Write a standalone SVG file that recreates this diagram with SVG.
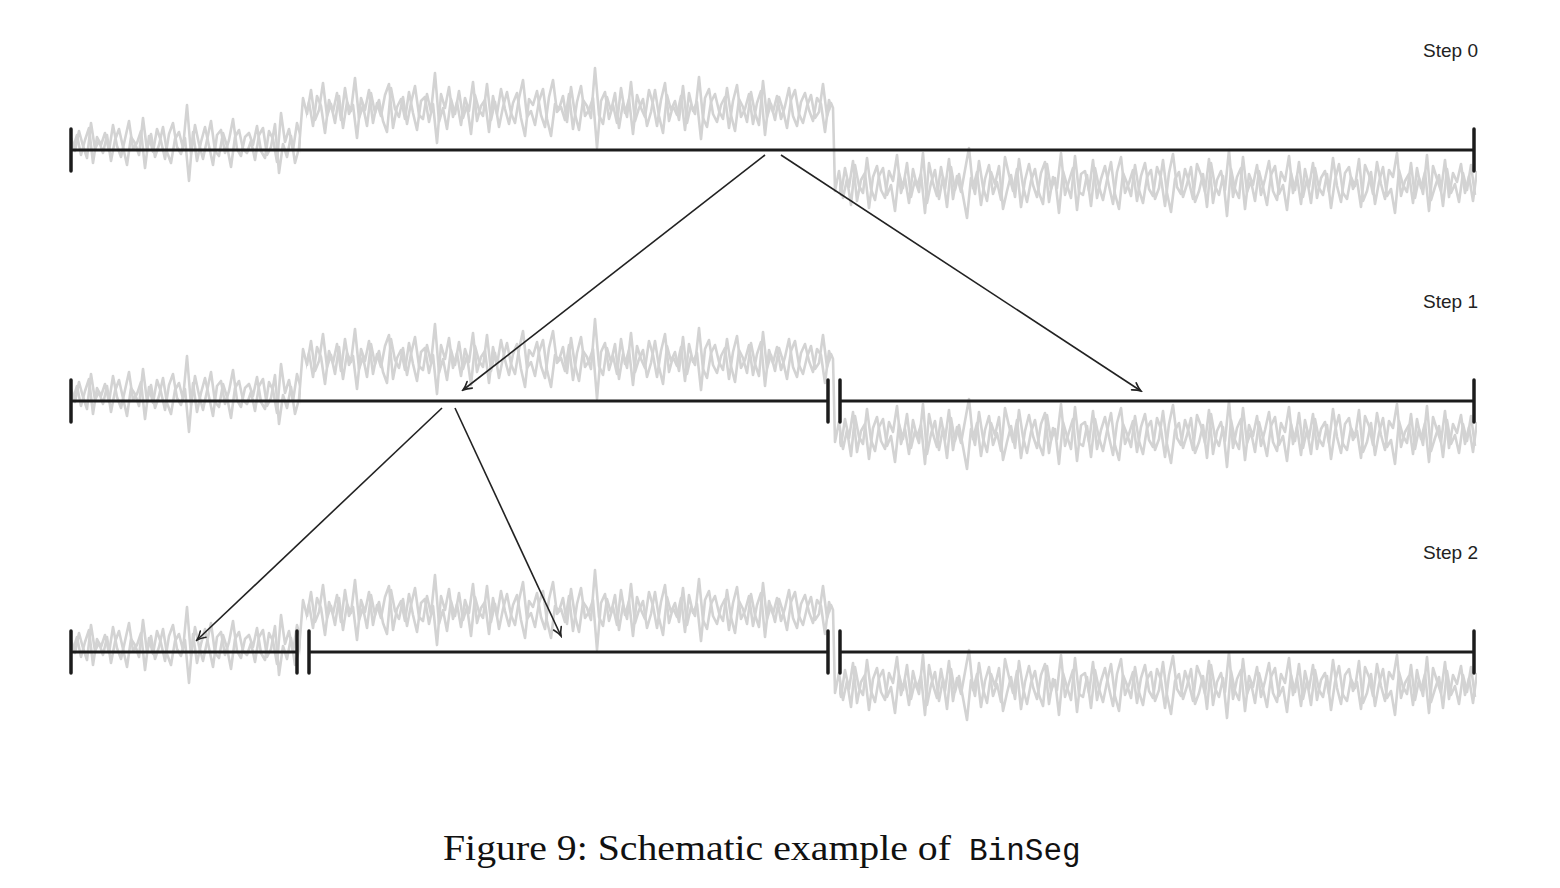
<svg xmlns="http://www.w3.org/2000/svg" xmlns:xlink="http://www.w3.org/1999/xlink" width="1560" height="888" viewBox="0 0 1560 888">
<style>
.sig{fill:none;stroke:#d3d3d3;stroke-width:2.6;stroke-linejoin:round}
.axis{stroke:#1c1c1c;stroke-width:3;fill:none}
.tick{stroke:#1c1c1c;stroke-width:3.5;stroke-linecap:round}
.arrow{stroke:#222;stroke-width:1.6;fill:none;marker-end:url(#ah)}
.lbl{font-family:"Liberation Sans",Arial,sans-serif;font-size:19px;fill:#222;text-anchor:end}
.cap{font-family:"Liberation Serif","Times New Roman",serif;font-size:36px;fill:#111}
.capmono{font-family:"Liberation Mono","Courier New",monospace;font-size:31px;fill:#111}
</style>
<defs>
<polyline id="sig" class="sig" points="71,138 75,151 79,131 83,146 87,158 91,123 95,149 99,141 103,153 107,135 111,161 115,140 119,129 123,147 127,165 131,137 135,143 139,155 143,118 147,150 151,134 155,157 159,145 163,127 167,152 171,163 175,139 179,132 183,148 187,105 191,154 195,125 199,144 203,159 207,140 211,121 215,151 219,156 223,133 227,146 231,167 235,137 239,130 243,149 247,153 251,141 255,160 259,135 263,128 267,155 271,147 275,124 279,173 283,144 287,157 291,136 295,163 299,148 303,98 307,114 311,90 315,120 319,110 323,83 327,116 331,104 335,123 339,96 343,128 347,102 351,111 355,78 359,118 363,106 367,126 371,93 375,113 379,100 383,121 387,132 391,88 395,109 399,117 403,97 407,124 411,103 415,86 419,115 423,119 427,94 431,112 435,73 439,122 443,108 447,129 451,99 455,114 459,91 463,118 467,105 471,134 475,95 479,110 483,116 487,84 491,120 495,102 499,127 503,107 507,92 511,113 515,123 519,98 523,80 527,117 531,111 535,125 539,101 543,89 547,119 551,136 555,104 559,109 563,96 567,122 571,87 575,114 579,130 583,100 587,106 591,118 595,68 599,115 603,124 607,97 611,111 615,93 619,128 623,103 627,117 631,82 635,121 639,108 643,99 647,126 651,112 655,90 659,116 663,133 667,95 671,110 675,101 679,120 683,86 687,123 691,105 695,114 699,77 703,118 707,127 711,102 715,94 719,111 723,119 727,88 731,115 735,131 739,99 743,107 747,122 751,92 755,113 759,125 763,81 767,117 771,104 775,120 779,97 783,110 787,128 791,100 795,90 799,114 803,123 807,106 811,95 815,118 819,112 823,84 827,116 831,103 833,108 835,191 839,171 843,198 847,179 851,205 855,165 859,186 863,193 867,158 871,189 875,200 879,176 883,168 887,195 891,185 895,211 899,173 903,188 907,163 911,197 915,180 919,192 923,153 927,203 931,183 935,170 939,199 943,177 947,207 951,167 955,190 959,174 963,196 967,218 971,178 975,194 979,161 983,187 987,201 991,172 995,184 999,166 1003,209 1007,191 1011,175 1015,197 1019,159 1023,186 1027,202 1031,181 1035,169 1039,193 1043,204 1047,164 1051,189 1055,178 1059,213 1063,171 1067,185 1071,198 1075,156 1079,192 1083,195 1087,175 1091,206 1095,168 1099,187 1103,200 1107,180 1111,162 1115,194 1119,209 1123,173 1127,183 1131,196 1135,165 1139,190 1143,203 1147,177 1151,170 1155,199 1159,188 1163,160 1167,193 1171,212 1175,179 1179,172 1183,197 1187,184 1191,167 1195,202 1199,191 1203,174 1207,207 1211,163 1215,186 1219,195 1223,176 1227,216 1231,169 1235,189 1239,198 1243,157 1247,192 1251,181 1255,201 1259,171 1263,187 1267,205 1271,175 1275,166 1279,194 1283,185 1287,210 1291,173 1295,190 1299,162 1303,197 1307,179 1311,203 1315,168 1319,188 1323,195 1327,174 1331,208 1335,180 1339,164 1343,193 1347,199 1351,177 1355,186 1359,159 1363,201 1367,191 1371,172 1375,204 1379,182 1383,167 1387,196 1391,189 1395,213 1399,170 1403,185 1407,192 1411,163 1415,198 1419,178 1423,194 1427,155 1431,200 1435,187 1439,175 1443,206 1447,169 1451,193 1455,184 1459,202 1463,173 1467,190 1471,165 1475,195"/>
<clipPath id="c1"><rect x="72" y="0" width="229" height="300"/></clipPath>
<clipPath id="c2"><rect x="306" y="0" width="525" height="300"/></clipPath>
<clipPath id="c3"><rect x="839" y="0" width="638" height="300"/></clipPath>
<g id="signal">
<use href="#sig" xlink:href="#sig"/>
<g clip-path="url(#c1)"><use href="#sig" xlink:href="#sig" transform="translate(2,286) scale(1,-1)"/></g>
<g clip-path="url(#c2)"><use href="#sig" xlink:href="#sig" transform="translate(2,216) scale(1,-1)"/></g>
<g clip-path="url(#c3)"><use href="#sig" xlink:href="#sig" transform="translate(2,366) scale(1,-1)"/></g>
</g>
<marker id="ah" markerUnits="userSpaceOnUse" viewBox="-10 -6 12 12" refX="0" refY="0" markerWidth="12" markerHeight="12" orient="auto">
<path d="M-8.5,-4.2 C-5,-1.8 -1.5,-0.4 0,0 C-1.5,0.4 -5,1.8 -8.5,4.2" fill="none" stroke="#222" stroke-width="1.6" stroke-linecap="round"/>
</marker>
</defs>

<g id="step0">
<use href="#signal" xlink:href="#signal"/>
<line class="axis" x1="71" y1="150" x2="1474" y2="150"/>
<line class="tick" x1="71" y1="129" x2="71" y2="171"/>
<line class="tick" x1="1474" y1="129" x2="1474" y2="171"/>
<text class="lbl" x="1478" y="57">Step 0</text>
</g>

<g id="step1">
<use href="#signal" xlink:href="#signal" y="251"/>
<line class="axis" x1="71" y1="401" x2="828" y2="401"/>
<line class="axis" x1="840" y1="401" x2="1474" y2="401"/>
<line class="tick" x1="71" y1="380" x2="71" y2="422"/>
<line class="tick" x1="828" y1="380" x2="828" y2="422"/>
<line class="tick" x1="840" y1="380" x2="840" y2="422"/>
<line class="tick" x1="1474" y1="380" x2="1474" y2="422"/>
<text class="lbl" x="1478" y="308">Step 1</text>
</g>

<g id="step2">
<use href="#signal" xlink:href="#signal" y="502"/>
<line class="axis" x1="71" y1="652" x2="297" y2="652"/>
<line class="axis" x1="309" y1="652" x2="828" y2="652"/>
<line class="axis" x1="840" y1="652" x2="1474" y2="652"/>
<line class="tick" x1="71" y1="631" x2="71" y2="673"/>
<line class="tick" x1="297" y1="631" x2="297" y2="673"/>
<line class="tick" x1="309" y1="631" x2="309" y2="673"/>
<line class="tick" x1="828" y1="631" x2="828" y2="673"/>
<line class="tick" x1="840" y1="631" x2="840" y2="673"/>
<line class="tick" x1="1474" y1="631" x2="1474" y2="673"/>
<text class="lbl" x="1478" y="559">Step 2</text>
</g>

<g id="connectors">
<line class="arrow" x1="765" y1="155" x2="463" y2="390"/>
<line class="arrow" x1="781" y1="155" x2="1141" y2="391"/>
<line class="arrow" x1="442" y1="408" x2="197" y2="640"/>
<line class="arrow" x1="455" y1="408" x2="561" y2="636"/>
</g>

<g id="caption">
<text class="cap" x="443" y="860" textLength="508" lengthAdjust="spacingAndGlyphs">Figure 9:  Schematic example of</text>
<text class="capmono" x="969" y="860">BinSeg</text>
</g>
</svg>
